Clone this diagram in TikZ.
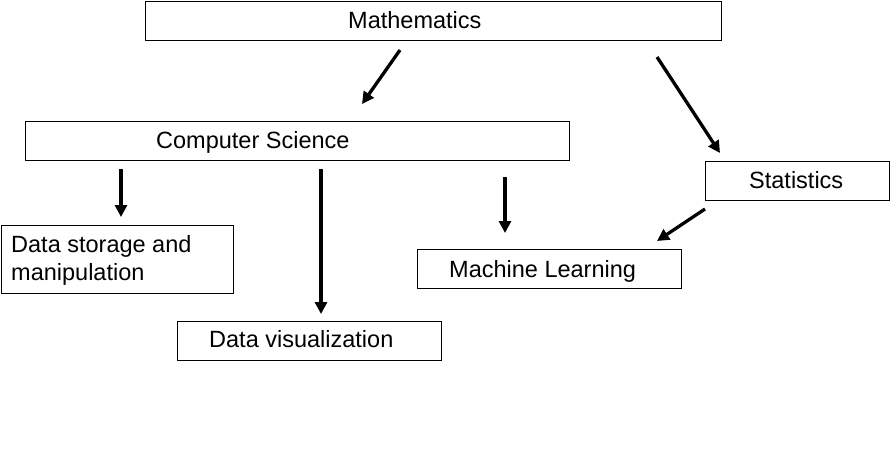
\documentclass[tikz,border=0pt]{standalone}
\usepackage{fontspec}
\setmainfont{Liberation Sans}
\usetikzlibrary{arrows.meta}
\begin{document}
\begin{tikzpicture}[x=1pt,y=-1pt,
  box/.style={draw=black,line width=1pt},
  lbl/.style={anchor=base west,inner sep=0pt,font=\fontsize{23.5}{28}\selectfont},
  arr/.style={line width=3.3pt,-{Triangle[length=12pt,width=12pt]}}]
\useasboundingbox[fill=white] (0,0) rectangle (890,460);
% boxes
\draw[box] (145.5,1.5) rectangle (721.5,40.5);
\node[lbl] (math) at (348,28.5) {Mathematics};
\draw[box] (25.5,121.5) rectangle (569.5,160.5);
\node[lbl] (cs) at (156,148.5) {Computer Science};
\draw[box] (705.5,161.5) rectangle (889.5,200.5);
\node[lbl] (stat) at (749,188.5) {Statistics};
\draw[box] (1.5,225.5) rectangle (233.5,293.5);
\node[lbl] (ds1) at (11,252) {Data storage and};
\node[lbl] (ds2) at (11,280) {manipulation};
\draw[box] (417.5,249.5) rectangle (681.5,288.5);
\node[lbl] (ml) at (449,277) {Machine Learning};
\draw[box] (177.5,321.5) rectangle (441.5,360.5);
\node[lbl] (dv) at (209,347.5) {Data visualization};
% arrow end points
\coordinate (a1s) at (400,50);  \coordinate (a1e) at (362,104);
\coordinate (a2s) at (657,57);  \coordinate (a2e) at (720,153);
\coordinate (a3s) at (121,169); \coordinate (a3e) at (121,217);
\coordinate (a4s) at (321,169); \coordinate (a4e) at (321,314);
\coordinate (a5s) at (505,177); \coordinate (a5e) at (505,233);
\coordinate (a6s) at (705,209); \coordinate (a6e) at (657,241);
\draw[arr] (a1s) -- (a1e);
\draw[arr] (a2s) -- (a2e);
\draw[arr] (a3s) -- (a3e);
\draw[arr] (a4s) -- (a4e);
\draw[arr] (a5s) -- (a5e);
\draw[arr] (a6s) -- (a6e);
\end{tikzpicture}
\end{document}
